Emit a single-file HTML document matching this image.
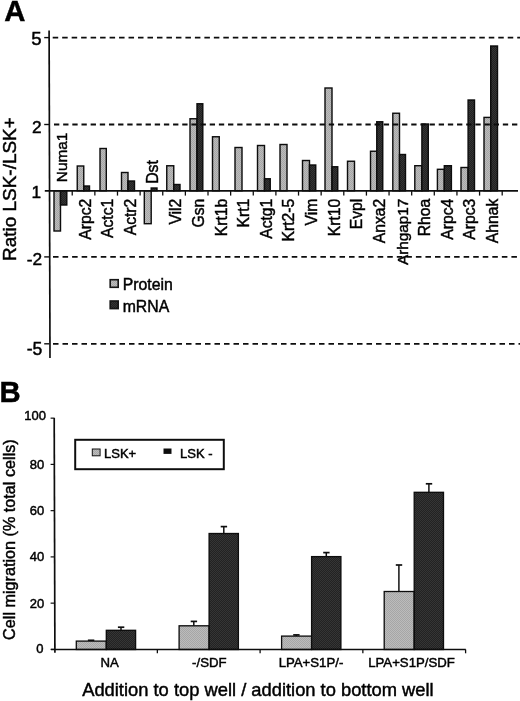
<!DOCTYPE html>
<html lang="en"><head><meta charset="utf-8"><title>Figure</title>
<style>html,body{margin:0;padding:0;background:#fff;}body{width:520px;height:701px;overflow:hidden;}svg{display:block;}text{font-family:"Liberation Sans", Arial, Helvetica, sans-serif;fill:#000;stroke:#000;stroke-width:0.45px;}</style>
</head><body>
<svg width="520" height="701" viewBox="0 0 520 701">
<defs>
<pattern id="pl" width="2" height="2" patternUnits="userSpaceOnUse"><rect width="2" height="2" fill="#bcbcbc"/><rect width="1" height="1" fill="#a6a6a6"/><rect x="1" y="1" width="1" height="1" fill="#a6a6a6"/></pattern>
<pattern id="pd" width="2" height="2" patternUnits="userSpaceOnUse"><rect width="2" height="2" fill="#222"/><rect width="1" height="1" fill="#363636"/><rect x="1" y="1" width="1" height="1" fill="#363636"/></pattern>
</defs>
<filter id="soft" x="0" y="0" width="520" height="701" filterUnits="userSpaceOnUse" primitiveUnits="userSpaceOnUse"><feGaussianBlur stdDeviation="0.45"/></filter>
<rect width="520" height="701" fill="#fff"/>
<g filter="url(#soft)">
<rect width="520" height="701" fill="#fff"/>
<text x="4.2" y="21.2" font-size="29.3" font-weight="bold">A</text>
<rect x="54.00" y="190.80" width="6.50" height="40.20" fill="url(#pl)" stroke="#0a0a0a" stroke-width="1.4"/>
<rect x="60.50" y="190.80" width="6.30" height="14.20" fill="url(#pd)" stroke="#0a0a0a" stroke-width="1.4"/>
<rect x="77.25" y="166.00" width="6.50" height="24.80" fill="url(#pl)" stroke="#0a0a0a" stroke-width="1.4"/>
<rect x="83.75" y="186.00" width="5.75" height="4.80" fill="url(#pd)" stroke="#0a0a0a" stroke-width="1.4"/>
<rect x="100.00" y="148.50" width="6.30" height="42.30" fill="url(#pl)" stroke="#0a0a0a" stroke-width="1.4"/>
<rect x="121.50" y="172.50" width="6.50" height="18.30" fill="url(#pl)" stroke="#0a0a0a" stroke-width="1.4"/>
<rect x="128.00" y="181.00" width="6.50" height="9.80" fill="url(#pd)" stroke="#0a0a0a" stroke-width="1.4"/>
<rect x="144.30" y="190.80" width="6.90" height="32.90" fill="url(#pl)" stroke="#0a0a0a" stroke-width="1.4"/>
<rect x="151.20" y="188.00" width="5.80" height="2.80" fill="url(#pd)" stroke="#0a0a0a" stroke-width="1.4"/>
<rect x="166.75" y="165.75" width="7.00" height="25.05" fill="url(#pl)" stroke="#0a0a0a" stroke-width="1.4"/>
<rect x="173.75" y="184.50" width="6.25" height="6.30" fill="url(#pd)" stroke="#0a0a0a" stroke-width="1.4"/>
<rect x="190.00" y="118.75" width="7.00" height="72.05" fill="url(#pl)" stroke="#0a0a0a" stroke-width="1.4"/>
<rect x="197.00" y="103.75" width="5.80" height="87.05" fill="url(#pd)" stroke="#0a0a0a" stroke-width="1.4"/>
<rect x="212.50" y="136.75" width="6.75" height="54.05" fill="url(#pl)" stroke="#0a0a0a" stroke-width="1.4"/>
<rect x="235.00" y="147.50" width="7.00" height="43.30" fill="url(#pl)" stroke="#0a0a0a" stroke-width="1.4"/>
<rect x="257.50" y="145.50" width="7.00" height="45.30" fill="url(#pl)" stroke="#0a0a0a" stroke-width="1.4"/>
<rect x="264.50" y="178.75" width="5.75" height="12.05" fill="url(#pd)" stroke="#0a0a0a" stroke-width="1.4"/>
<rect x="280.00" y="144.50" width="7.00" height="46.30" fill="url(#pl)" stroke="#0a0a0a" stroke-width="1.4"/>
<rect x="302.50" y="160.50" width="7.00" height="30.30" fill="url(#pl)" stroke="#0a0a0a" stroke-width="1.4"/>
<rect x="309.50" y="165.00" width="6.25" height="25.80" fill="url(#pd)" stroke="#0a0a0a" stroke-width="1.4"/>
<rect x="325.00" y="88.00" width="7.00" height="102.80" fill="url(#pl)" stroke="#0a0a0a" stroke-width="1.4"/>
<rect x="332.00" y="166.75" width="5.75" height="24.05" fill="url(#pd)" stroke="#0a0a0a" stroke-width="1.4"/>
<rect x="347.50" y="161.25" width="7.00" height="29.55" fill="url(#pl)" stroke="#0a0a0a" stroke-width="1.4"/>
<rect x="370.50" y="151.25" width="6.25" height="39.55" fill="url(#pl)" stroke="#0a0a0a" stroke-width="1.4"/>
<rect x="376.75" y="121.75" width="6.00" height="69.05" fill="url(#pd)" stroke="#0a0a0a" stroke-width="1.4"/>
<rect x="392.80" y="113.25" width="6.70" height="77.55" fill="url(#pl)" stroke="#0a0a0a" stroke-width="1.4"/>
<rect x="399.50" y="154.50" width="6.00" height="36.30" fill="url(#pd)" stroke="#0a0a0a" stroke-width="1.4"/>
<rect x="414.80" y="165.70" width="7.10" height="25.10" fill="url(#pl)" stroke="#0a0a0a" stroke-width="1.4"/>
<rect x="421.90" y="124.00" width="6.40" height="66.80" fill="url(#pd)" stroke="#0a0a0a" stroke-width="1.4"/>
<rect x="437.40" y="169.30" width="6.90" height="21.50" fill="url(#pl)" stroke="#0a0a0a" stroke-width="1.4"/>
<rect x="444.30" y="165.70" width="7.10" height="25.10" fill="url(#pd)" stroke="#0a0a0a" stroke-width="1.4"/>
<rect x="461.00" y="167.50" width="7.10" height="23.30" fill="url(#pl)" stroke="#0a0a0a" stroke-width="1.4"/>
<rect x="468.10" y="100.00" width="6.40" height="90.80" fill="url(#pd)" stroke="#0a0a0a" stroke-width="1.4"/>
<rect x="484.00" y="117.40" width="6.70" height="73.40" fill="url(#pl)" stroke="#0a0a0a" stroke-width="1.4"/>
<rect x="490.70" y="46.00" width="6.80" height="144.80" fill="url(#pd)" stroke="#0a0a0a" stroke-width="1.4"/>
<line x1="52.7" y1="37.6" x2="520" y2="37.6" stroke="#0c0c0c" stroke-width="1.85" stroke-dasharray="5.50 3.98"/>
<line x1="44.2" y1="37.6" x2="49.6" y2="37.6" stroke="#111" stroke-width="1.4"/>
<line x1="54.0" y1="124.5" x2="520" y2="124.5" stroke="#0c0c0c" stroke-width="1.85" stroke-dasharray="5.31 3.85"/>
<line x1="44.2" y1="124.5" x2="49.6" y2="124.5" stroke="#111" stroke-width="1.4"/>
<line x1="53.0" y1="256.9" x2="520" y2="256.9" stroke="#0c0c0c" stroke-width="1.85" stroke-dasharray="5.54 4.01"/>
<line x1="44.2" y1="256.9" x2="49.6" y2="256.9" stroke="#111" stroke-width="1.4"/>
<line x1="53.0" y1="343.8" x2="520" y2="343.8" stroke="#0c0c0c" stroke-width="1.85" stroke-dasharray="5.51 3.99"/>
<line x1="44.2" y1="343.8" x2="49.6" y2="343.8" stroke="#111" stroke-width="1.4"/>
<line x1="49.1" y1="30.6" x2="50.0" y2="358" stroke="#111" stroke-width="1.7"/>
<line x1="44.8" y1="190.8" x2="518" y2="190.8" stroke="#111" stroke-width="1.7"/>
<line x1="72.23" y1="190.8" x2="72.23" y2="195.6" stroke="#111" stroke-width="1.3"/>
<line x1="94.86" y1="190.8" x2="94.86" y2="195.6" stroke="#111" stroke-width="1.3"/>
<line x1="117.49" y1="190.8" x2="117.49" y2="195.6" stroke="#111" stroke-width="1.3"/>
<line x1="140.12" y1="190.8" x2="140.12" y2="195.6" stroke="#111" stroke-width="1.3"/>
<line x1="162.75" y1="190.8" x2="162.75" y2="195.6" stroke="#111" stroke-width="1.3"/>
<line x1="185.38" y1="190.8" x2="185.38" y2="195.6" stroke="#111" stroke-width="1.3"/>
<line x1="208.01" y1="190.8" x2="208.01" y2="195.6" stroke="#111" stroke-width="1.3"/>
<line x1="230.64" y1="190.8" x2="230.64" y2="195.6" stroke="#111" stroke-width="1.3"/>
<line x1="253.27" y1="190.8" x2="253.27" y2="195.6" stroke="#111" stroke-width="1.3"/>
<line x1="275.90" y1="190.8" x2="275.90" y2="195.6" stroke="#111" stroke-width="1.3"/>
<line x1="298.53" y1="190.8" x2="298.53" y2="195.6" stroke="#111" stroke-width="1.3"/>
<line x1="321.16" y1="190.8" x2="321.16" y2="195.6" stroke="#111" stroke-width="1.3"/>
<line x1="343.79" y1="190.8" x2="343.79" y2="195.6" stroke="#111" stroke-width="1.3"/>
<line x1="366.42" y1="190.8" x2="366.42" y2="195.6" stroke="#111" stroke-width="1.3"/>
<line x1="389.05" y1="190.8" x2="389.05" y2="195.6" stroke="#111" stroke-width="1.3"/>
<line x1="411.68" y1="190.8" x2="411.68" y2="195.6" stroke="#111" stroke-width="1.3"/>
<line x1="434.31" y1="190.8" x2="434.31" y2="195.6" stroke="#111" stroke-width="1.3"/>
<line x1="456.94" y1="190.8" x2="456.94" y2="195.6" stroke="#111" stroke-width="1.3"/>
<line x1="479.57" y1="190.8" x2="479.57" y2="195.6" stroke="#111" stroke-width="1.3"/>
<line x1="502.20" y1="190.8" x2="502.20" y2="195.6" stroke="#111" stroke-width="1.3"/>
<text transform="translate(66.90,182.2) rotate(-90)" font-size="15.4" text-anchor="start">Numa1</text>
<text transform="translate(90.73,198.7) rotate(-90)" font-size="15.7" text-anchor="end">Arpc2</text>
<text transform="translate(113.36,198.7) rotate(-90)" font-size="15.7" text-anchor="end">Actc1</text>
<text transform="translate(135.99,198.7) rotate(-90)" font-size="15.7" text-anchor="end">Actr2</text>
<text transform="translate(157.90,183.8) rotate(-90)" font-size="15.8" text-anchor="start">Dst</text>
<text transform="translate(181.25,198.7) rotate(-90)" font-size="15.7" text-anchor="end">Vil2</text>
<text transform="translate(203.88,198.7) rotate(-90)" font-size="15.7" text-anchor="end">Gsn</text>
<text transform="translate(226.51,198.7) rotate(-90)" font-size="15.7" text-anchor="end">Krt1b</text>
<text transform="translate(249.14,198.7) rotate(-90)" font-size="15.7" text-anchor="end">Krt1</text>
<text transform="translate(271.77,198.7) rotate(-90)" font-size="15.7" text-anchor="end">Actg1</text>
<text transform="translate(294.40,198.7) rotate(-90)" font-size="15.7" text-anchor="end">Krt2-5</text>
<text transform="translate(317.03,198.7) rotate(-90)" font-size="15.7" text-anchor="end">Vim</text>
<text transform="translate(339.66,198.7) rotate(-90)" font-size="15.7" text-anchor="end">Krt10</text>
<text transform="translate(362.29,198.7) rotate(-90)" font-size="15.7" text-anchor="end">Evpl</text>
<text transform="translate(384.92,198.7) rotate(-90)" font-size="15.7" text-anchor="end">Anxa2</text>
<text transform="translate(407.55,198.7) rotate(-90)" font-size="15.3" text-anchor="end">Arhgap17</text>
<text transform="translate(430.18,198.7) rotate(-90)" font-size="15.7" text-anchor="end">Rhoa</text>
<text transform="translate(452.81,198.7) rotate(-90)" font-size="15.7" text-anchor="end">Arpc4</text>
<text transform="translate(475.44,198.7) rotate(-90)" font-size="15.7" text-anchor="end">Arpc3</text>
<text transform="translate(498.07,198.7) rotate(-90)" font-size="15.7" text-anchor="end">Ahnak</text>
<text x="41.5" y="44.5" font-size="18.6" text-anchor="end">5</text>
<text x="41.6" y="132.6" font-size="17.3" text-anchor="end">2</text>
<text x="41.2" y="198.4" font-size="17.3" text-anchor="end">1</text>
<text x="42.2" y="265.0" font-size="17.3" text-anchor="end">-2</text>
<text x="42.4" y="354.6" font-size="17.6" text-anchor="end">-5</text>
<text transform="translate(16.4,189.1) rotate(-90)" font-size="18.95" text-anchor="middle">Ratio LSK-/LSK+</text>
<rect x="110.2" y="279.7" width="8" height="7.6" fill="url(#pl)" stroke="#151515" stroke-width="1.6"/>
<text x="122.7" y="289.8" font-size="15.8">Protein</text>
<rect x="110.2" y="301.0" width="8" height="7.6" fill="url(#pd)" stroke="#151515" stroke-width="1.6"/>
<text x="122.7" y="311.5" font-size="15.8">mRNA</text>
<text x="-0.5" y="401.9" font-size="29.3" font-weight="bold">B</text>
<line x1="91.00" y1="641.10" x2="91.00" y2="640.30" stroke="#111" stroke-width="1.5"/>
<line x1="87.90" y1="640.30" x2="94.30" y2="640.30" stroke="#111" stroke-width="1.7"/>
<line x1="121.00" y1="630.30" x2="121.00" y2="627.20" stroke="#111" stroke-width="1.5"/>
<line x1="117.90" y1="627.20" x2="124.30" y2="627.20" stroke="#111" stroke-width="1.7"/>
<rect x="76.30" y="641.10" width="30" height="8.40" fill="url(#pl)" stroke="#0a0a0a" stroke-width="1.3"/>
<rect x="106.30" y="630.30" width="29.3" height="19.20" fill="url(#pd)" stroke="#0a0a0a" stroke-width="1.3"/>
<text x="109.7" y="667.4" font-size="13.2" text-anchor="middle">NA</text>
<line x1="193.80" y1="625.80" x2="193.80" y2="621.40" stroke="#111" stroke-width="1.5"/>
<line x1="190.70" y1="621.40" x2="197.10" y2="621.40" stroke="#111" stroke-width="1.7"/>
<line x1="223.80" y1="533.50" x2="223.80" y2="526.60" stroke="#111" stroke-width="1.5"/>
<line x1="220.70" y1="526.60" x2="227.10" y2="526.60" stroke="#111" stroke-width="1.7"/>
<rect x="179.10" y="625.80" width="30" height="23.70" fill="url(#pl)" stroke="#0a0a0a" stroke-width="1.3"/>
<rect x="209.10" y="533.50" width="29.3" height="116.00" fill="url(#pd)" stroke="#0a0a0a" stroke-width="1.3"/>
<text x="209.3" y="667.4" font-size="13.2" text-anchor="middle">-/SDF</text>
<line x1="296.30" y1="636.10" x2="296.30" y2="634.90" stroke="#111" stroke-width="1.5"/>
<line x1="293.20" y1="634.90" x2="299.60" y2="634.90" stroke="#111" stroke-width="1.7"/>
<line x1="326.30" y1="556.60" x2="326.30" y2="552.60" stroke="#111" stroke-width="1.5"/>
<line x1="323.20" y1="552.60" x2="329.60" y2="552.60" stroke="#111" stroke-width="1.7"/>
<rect x="281.60" y="636.10" width="30" height="13.40" fill="url(#pl)" stroke="#0a0a0a" stroke-width="1.3"/>
<rect x="311.60" y="556.60" width="29.3" height="92.90" fill="url(#pd)" stroke="#0a0a0a" stroke-width="1.3"/>
<text x="311.0" y="667.4" font-size="13.2" text-anchor="middle">LPA+S1P/-</text>
<line x1="398.90" y1="591.50" x2="398.90" y2="565.00" stroke="#111" stroke-width="1.5"/>
<line x1="395.80" y1="565.00" x2="402.20" y2="565.00" stroke="#111" stroke-width="1.7"/>
<line x1="428.90" y1="492.30" x2="428.90" y2="483.80" stroke="#111" stroke-width="1.5"/>
<line x1="425.80" y1="483.80" x2="432.20" y2="483.80" stroke="#111" stroke-width="1.7"/>
<rect x="384.20" y="591.50" width="30" height="58.00" fill="url(#pl)" stroke="#0a0a0a" stroke-width="1.3"/>
<rect x="414.20" y="492.30" width="29.3" height="157.20" fill="url(#pd)" stroke="#0a0a0a" stroke-width="1.3"/>
<text x="411.5" y="667.4" font-size="13.2" text-anchor="middle">LPA+S1P/SDF</text>
<line x1="54.2" y1="418" x2="54.9" y2="652.7" stroke="#111" stroke-width="1.7"/>
<line x1="51.0" y1="649.5" x2="465.8" y2="649.5" stroke="#111" stroke-width="1.6"/>
<line x1="157.35" y1="649.5" x2="157.35" y2="653.3" stroke="#111" stroke-width="1.3"/>
<line x1="260.10" y1="649.5" x2="260.10" y2="653.3" stroke="#111" stroke-width="1.3"/>
<line x1="362.85" y1="649.5" x2="362.85" y2="653.3" stroke="#111" stroke-width="1.3"/>
<line x1="465.60" y1="649.5" x2="465.60" y2="653.3" stroke="#111" stroke-width="1.3"/>
<line x1="50.6" y1="418.15" x2="54.6" y2="418.15" stroke="#111" stroke-width="1.2"/>
<text x="46.0" y="420.45" font-size="13" text-anchor="end">100</text>
<line x1="50.6" y1="464.40" x2="54.6" y2="464.40" stroke="#111" stroke-width="1.2"/>
<text x="44.2" y="468.80" font-size="13" text-anchor="end">80</text>
<line x1="50.6" y1="510.65" x2="54.6" y2="510.65" stroke="#111" stroke-width="1.2"/>
<text x="44.2" y="515.05" font-size="13" text-anchor="end">60</text>
<line x1="50.6" y1="556.90" x2="54.6" y2="556.90" stroke="#111" stroke-width="1.2"/>
<text x="44.2" y="561.30" font-size="13" text-anchor="end">40</text>
<line x1="50.6" y1="603.15" x2="54.6" y2="603.15" stroke="#111" stroke-width="1.2"/>
<text x="44.2" y="607.55" font-size="13" text-anchor="end">20</text>
<line x1="50.6" y1="649.40" x2="54.6" y2="649.40" stroke="#111" stroke-width="1.2"/>
<text x="43.6" y="652.80" font-size="13" text-anchor="end">0</text>
<text transform="translate(14.8,539.6) rotate(-90)" font-size="16.2" text-anchor="middle">Cell migration (% total cells)</text>
<rect x="75.2" y="439.8" width="148.6" height="29.4" fill="#fff" stroke="#111" stroke-width="2"/>
<rect x="92.3" y="449" width="7.8" height="6.8" fill="url(#pl)" stroke="#111" stroke-width="1"/>
<text x="104" y="457.6" font-size="13">LSK+</text>
<rect x="163.5" y="448.5" width="8" height="5.4" fill="#111"/>
<text x="180" y="457.6" font-size="13">LSK -</text>
<text x="82.2" y="695.7" font-size="18.34">Addition to top well / addition to bottom well</text>
</g>
</svg>
</body></html>
